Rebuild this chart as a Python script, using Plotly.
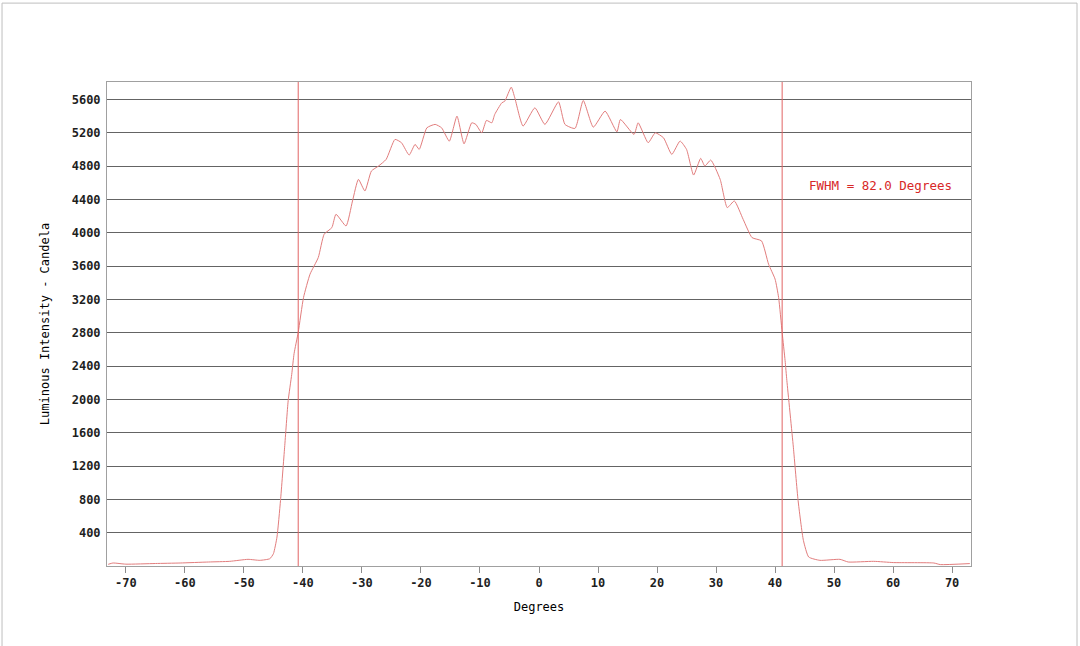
import plotly.graph_objects as go

degrees = [-73.0, -72.2, -70.0, -65.0, -60.8, -56.0, -52.4, -49.3, -47.3, -45.6, -45.0,
           -44.4, -43.8, -43.1, -42.5, -41.9, -41.5, -40.8, -39.9, -38.8, -37.4, -36.4,
           -35.1, -34.4, -32.7, -31.6, -30.6, -29.5, -28.4, -27.2, -25.9, -24.4, -23.3,
           -22.0, -21.0, -20.3, -19.0, -17.6, -16.5, -15.2, -13.9, -12.7, -11.4, -10.7,
           -9.7, -8.9, -8.0, -7.5, -6.3, -5.8, -4.7, -4.1, -2.7, -0.7, 1.0, 3.3, 4.4,
           6.1, 7.5, 9.2, 11.2, 13.2, 13.8, 16.1, 16.8, 18.5, 19.7, 21.1, 22.5, 23.9,
           25.0, 26.2, 27.4, 28.1, 29.1, 30.7, 31.9, 33.1, 34.6, 36.1, 37.7, 38.9, 40.0,
           40.6, 41.2, 41.7, 42.0, 43.1, 43.9, 44.8, 45.7, 47.6, 51.0, 52.4, 56.7, 60.1,
           66.9, 68.0, 73.0]
candela = [20, 36, 22, 30, 36, 48, 56, 80, 68, 88, 148,
           347, 787, 1426, 1985, 2300, 2550, 2804, 3223, 3503, 3703, 3983,
           4062, 4222, 4082, 4382, 4641, 4502, 4741, 4801, 4881, 5121, 5081,
           4933, 5061, 5001, 5260, 5301, 5260, 5100, 5400, 5068, 5320, 5301,
           5200, 5349, 5320, 5421, 5560, 5580, 5748, 5620, 5281, 5500, 5301, 5572, 5301,
           5253, 5588, 5268, 5460, 5212, 5360, 5181, 5320, 5081, 5200, 5140, 4941, 5101,
           5001, 4693, 4893, 4801, 4873, 4641, 4302, 4382, 4160, 3942, 3903, 3623, 3444,
           3223, 2804, 2465, 2225, 1426, 787, 308, 108, 68, 80, 48, 56, 41,
           36, 17, 29]

fwhm_left = -40.8
fwhm_right = 41.2
fwhm_label = "FWHM = 82.0 Degrees"

x_ticks = [-70, -60, -50, -40, -30, -20, -10, 0, 10, 20, 30, 40, 50, 60, 70]
y_ticks = [400, 800, 1200, 1600, 2000, 2400, 2800, 3200, 3600, 4000, 4400, 4800, 5200, 5600]

MONO = "DejaVu Sans Mono"

fig = go.Figure()
fig.add_trace(go.Scatter(x=degrees, y=candela, mode="lines",
                         line=dict(color="rgb(226,125,125)", width=1,
                                   shape="spline", smoothing=0.5),
                         showlegend=False))

for xv in (fwhm_left, fwhm_right):
    fig.add_shape(type="line", xref="x", yref="paper", x0=xv, x1=xv, y0=0, y1=1,
                  line=dict(color="rgb(225,100,100)", width=1))

fig.add_annotation(x=57.8, y=4573, xref="x", yref="y", text=fwhm_label,
                   showarrow=False, xanchor="center", yanchor="middle",
                   font=dict(family=MONO, size=12.5, color="rgb(215,40,40)"))

# outer frame lines (left, top, right)
for (x0, y0, x1, y1) in [(-0.1215, -0.17, -0.1215, 1.163), (-0.1215, 1.163, 1.1227, 1.163),
                         (1.1227, 1.163, 1.1227, -0.17)]:
    fig.add_shape(type="line", xref="paper", yref="paper", x0=x0, y0=y0, x1=x1, y1=y1,
                  line=dict(color="rgb(190,190,190)", width=1))

fig.update_layout(
    width=1080, height=646,
    margin=dict(l=107, r=109, t=82, b=80),
    paper_bgcolor="white", plot_bgcolor="white",
    font=dict(family=MONO, color="black"),
    xaxis=dict(range=[-73.2, 73.2], tickvals=x_ticks, ticktext=[str(v) for v in x_ticks],
               showgrid=False, zeroline=False, showline=True, mirror=True,
               linecolor="rgb(160,160,160)", linewidth=1,
               ticks="outside", ticklen=6, tickcolor="rgb(140,140,140)",
               tickfont=dict(family=MONO, size=12, color="rgb(30,30,30)", weight="bold"),
               title=dict(text="Degrees", font=dict(family=MONO, size=12, color="black"),
                          standoff=13)),
    yaxis=dict(range=[0, 5810], tickvals=y_ticks, ticktext=[str(v) for v in y_ticks],
               showgrid=True, gridcolor="rgb(100,100,100)", gridwidth=1, zeroline=False,
               showline=True, mirror=True, linecolor="rgb(160,160,160)", linewidth=1,
               ticks="", ticklabelstandoff=3,
               tickfont=dict(family=MONO, size=12, color="rgb(30,30,30)", weight="bold"),
               title=dict(text="Luminous Intensity - Candela",
                          font=dict(family=MONO, size=12, color="black"), standoff=19)),
)

fig.write_html("out.html")
